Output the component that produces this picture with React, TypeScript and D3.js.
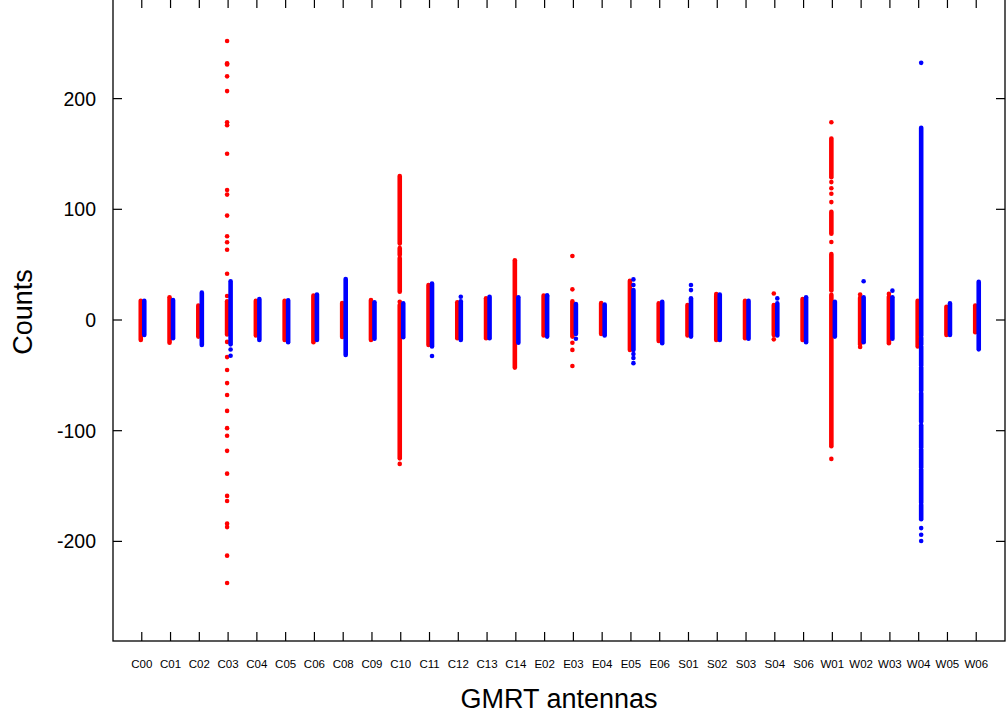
import React from "react";
import * as d3 from "d3";

const antennas = [
  "C00", "C01", "C02", "C03", "C04", "C05", "C06", "C08", "C09", "C10",
  "C11", "C12", "C13", "C14", "E02", "E03", "E04", "E05", "E06", "S01",
  "S02", "S03", "S04", "S06", "W01", "W02", "W03", "W04", "W05", "W06",
];

// dense core column per antenna: [high, low] counts
const redCore: [number, number][] = [
  [17.4, -18], [20.5, -20.5], [13, -15], [17, -13], [17.4, -14], [17.4, -18], [22, -20], [15.3, -15.3], [18, -18], [13.5, -125],
  [31.6, -22.6], [16, -16.5], [19.6, -16.5], [54, -43], [22, -14], [17, -15], [15.3, -12.6], [35.5, -27], [15, -19], [13.5, -14],
  [22, -18], [17.4, -16.5], [13.5, -13.5], [19, -18], [22.8, -114], [20, -22], [21, -21], [17.4, -24], [12, -13.5], [13, -11],
];
const blueCore: [number, number][] = [
  [17.4, -13.5], [18, -16.5], [24.7, -22.6], [35, -22], [19, -18], [17.7, -20], [23, -18], [37, -31.6], [16, -17], [15, -15.6],
  [33, -24], [17, -18], [21, -16.5], [20.5, -20.5], [22, -15], [14.4, -12.6], [14, -14], [27, -27], [16.5, -21], [19.6, -15],
  [23, -18], [17.4, -17], [15, -14], [20.5, -20], [16.5, -15], [20.5, -20], [20.5, -17], [173.7, -14], [15, -13.5], [34.6, -26.5],
];

// additional dense runs: [antenna, high, low]
const redSegments: [string, number, number][] = [
  ["C10", 130, 69], ["C10", 65, 58.7], ["C10", 56, 25.6],
  ["W01", 164, 129], ["W01", 97.7, 78], ["W01", 59.6, 26.6],
];
const blueSegments: [string, number, number][] = [
  ["W04", -16, -22], ["W04", -24, -41], ["W04", -43, -64], ["W04", -66, -92],
  ["W04", -95, -115], ["W04", -117, -133], ["W04", -135, -165], ["W04", -167, -180],
];

// isolated points: [antenna, count]
const redPoints: [string, number][] = [
  ["C03", 252.1], ["C03", 231.9], ["C03", 230.8], ["C03", 220.1], ["C03", 206.8], ["C03", 178.7], ["C03", 176.0],
  ["C03", 150.2], ["C03", 117.5], ["C03", 113.3], ["C03", 94.3], ["C03", 75.7], ["C03", 70.3], ["C03", 63.5],
  ["C03", 41.8], ["C03", 21.7], ["C03", -19.8], ["C03", -33.5], ["C03", -45.2], ["C03", -57.0], ["C03", -67.7],
  ["C03", -82.1], ["C03", -97.7], ["C03", -104.6], ["C03", -118.2], ["C03", -138.8], ["C03", -158.9], ["C03", -163.5],
  ["C03", -184.0], ["C03", -187.1], ["C03", -212.9], ["C03", -237.6],
  ["C10", 16.5], ["C10", -130],
  ["E03", 57.8], ["E03", 27.7], ["E03", -20.5], ["E03", -27], ["E03", -41.5],
  ["S02", 23.5], ["S04", 24], ["S04", -17.5],
  ["W01", 178.7], ["W01", 124.6], ["W01", 119], ["W01", 114], ["W01", 106.5], ["W01", 70.4], ["W01", -125.5],
  ["W02", 23], ["W02", -24.4], ["W03", 23.6],
];
const bluePoints: [string, number][] = [
  ["C03", -26.6], ["C03", -32.3], ["C11", -32.5], ["C12", 21], ["E02", 22], ["E03", -17],
  ["E05", 36.7], ["E05", 31.6], ["E05", -30.7], ["E05", -34.3], ["E05", -39],
  ["S01", 31.6], ["S01", 27], ["S04", 19.5], ["W02", 35], ["W03", 26.5],
  ["W04", 232.3], ["W04", -188], ["W04", -194], ["W04", -199.6],
];

const yTickValues = [-200, -100, 0, 100, 200];

const RED = "#ff0000";
const BLUE = "#0000ff";
const FONT = "'Liberation Sans', Arial, sans-serif";

export default function App() {
  const W = 1006;
  const H = 717;
  const left = 113, right = 1005, top = -1, bottom = 641;
  const x = d3.scaleLinear().domain([0, antennas.length + 1]).range([left, right]);
  const y = d3.scaleLinear().domain([-290, 290]).range([bottom, top]);
  const xa = (a: string) => x(antennas.indexOf(a) + 1);
  const redOff = -1;
  const blueOff = 2.5;
  const sw = 4.6;
  const r = 2.3;

  const seg = (cx: number, hi: number, lo: number, color: string, key: string) => (
    <line key={key} x1={cx} x2={cx} y1={y(hi)} y2={y(lo)} stroke={color} strokeWidth={sw} strokeLinecap="round" />
  );

  return (
    <svg width={W} height={H} style={{ position: "absolute", left: 0, top: 0, background: "#fff" }}>
      <rect x={0} y={0} width={W} height={H} fill="#fff" />
      <g>
        {redCore.map((c, i) => seg(x(i + 1) + redOff, c[0], c[1], RED, "rc" + i))}
        {redSegments.map((s, i) => seg(xa(s[0]) + redOff, s[1], s[2], RED, "rs" + i))}
        {redPoints.map((p, i) => (
          <circle key={"rp" + i} cx={xa(p[0]) + redOff} cy={y(p[1])} r={r} fill={RED} />
        ))}
      </g>
      <g>
        {blueCore.map((c, i) => seg(x(i + 1) + blueOff, c[0], c[1], BLUE, "bc" + i))}
        {blueSegments.map((s, i) => seg(xa(s[0]) + blueOff, s[1], s[2], BLUE, "bs" + i))}
        {bluePoints.map((p, i) => (
          <circle key={"bp" + i} cx={xa(p[0]) + blueOff} cy={y(p[1])} r={r} fill={BLUE} />
        ))}
      </g>
      <rect x={left} y={top} width={right - left} height={bottom - top} fill="none" stroke="#000" strokeWidth={1.3} />
      {antennas.map((a, i) => (
        <g key={"xt" + a}>
          <line x1={x(i + 1)} x2={x(i + 1)} y1={bottom} y2={bottom - 9} stroke="#000" strokeWidth={1.2} />
          <line x1={x(i + 1)} x2={x(i + 1)} y1={top} y2={top + 9} stroke="#000" strokeWidth={1.2} />
          <text x={x(i + 1)} y={668} textAnchor="middle" fontFamily={FONT} fontSize={11.5} fill="#000">{a}</text>
        </g>
      ))}
      {yTickValues.map((v) => (
        <g key={"yt" + v}>
          <line x1={left} x2={left + 9} y1={y(v)} y2={y(v)} stroke="#000" strokeWidth={1.2} />
          <line x1={right - 9} x2={right} y1={y(v)} y2={y(v)} stroke="#000" strokeWidth={1.2} />
          <text x={96} y={y(v)} dy="0.36em" textAnchor="end" fontFamily={FONT} fontSize={19.5} fill="#000">{v}</text>
        </g>
      ))}
      <text x={(left + right) / 2} y={708} textAnchor="middle" fontFamily={FONT} fontSize={27} fill="#000">GMRT antennas</text>
      <text transform={`translate(32, 312) rotate(-90)`} textAnchor="middle" fontFamily={FONT} fontSize={27} fill="#000">Counts</text>
    </svg>
  );
}
